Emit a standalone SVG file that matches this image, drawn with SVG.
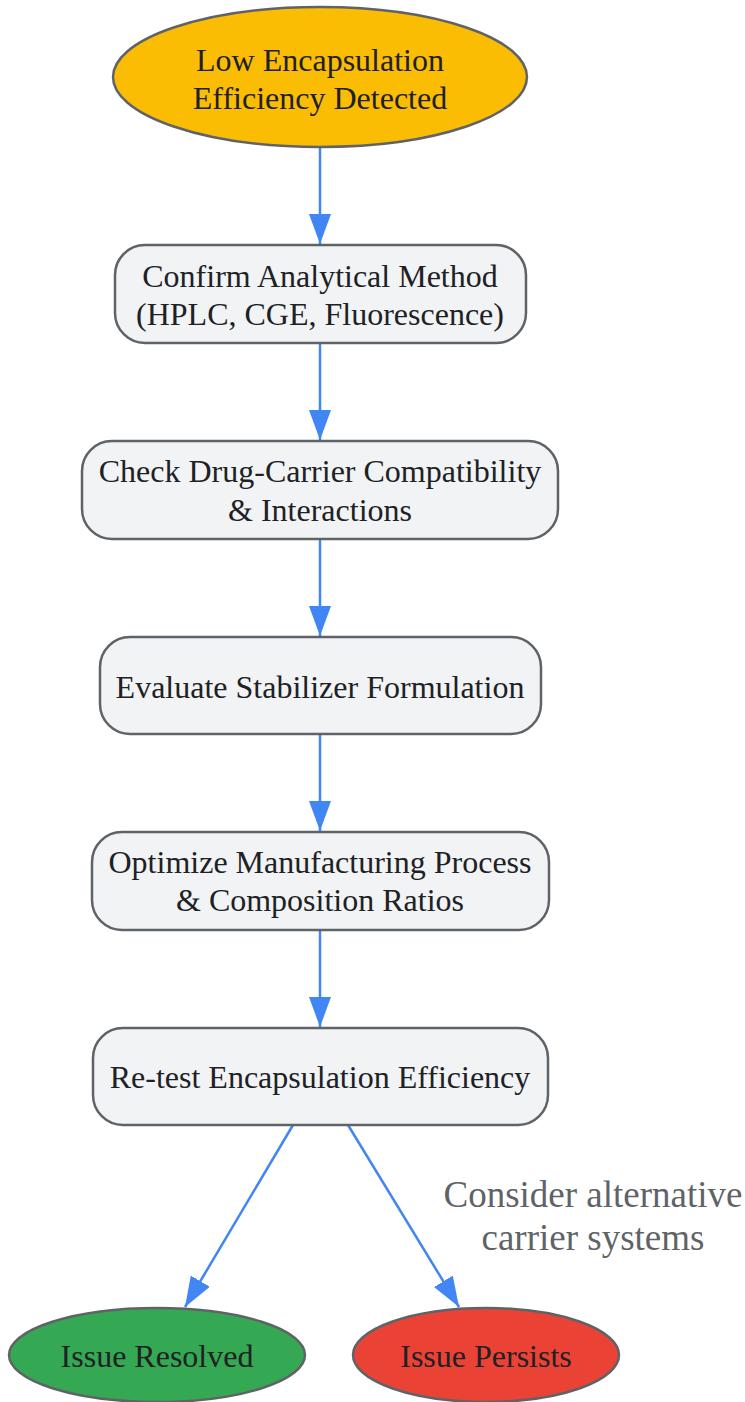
<svg xmlns="http://www.w3.org/2000/svg" width="745" height="1402" viewBox="0 0 745 1402">
<style>
text{font-family:"Liberation Serif","Times New Roman",serif;font-size:32px;fill:#202124;text-anchor:middle}
.box{fill:#F1F3F4;stroke:#5F6368;stroke-width:2.5}
.edge{stroke:#4285F4;stroke-width:2.5;fill:none}
.lbl{fill:#5F6368;font-size:37px}
</style>
<defs>
<marker id="ah" markerUnits="userSpaceOnUse" markerWidth="32" markerHeight="24" refX="30" refY="11" orient="auto">
<path d="M0,0 L30,11 L0,22 z" fill="#4285F4"/>
</marker>
</defs>
<rect width="745" height="1402" fill="#fff"/>
<g id="connectors">
<line class="edge" x1="320" y1="147" x2="320" y2="244" marker-end="url(#ah)"/>
<line class="edge" x1="320" y1="343" x2="320" y2="440" marker-end="url(#ah)"/>
<line class="edge" x1="320" y1="539" x2="320" y2="636" marker-end="url(#ah)"/>
<line class="edge" x1="320" y1="734" x2="320" y2="831" marker-end="url(#ah)"/>
<line class="edge" x1="320" y1="930" x2="320" y2="1027" marker-end="url(#ah)"/>
<line class="edge" x1="293" y1="1125" x2="185" y2="1307" marker-end="url(#ah)"/>
<line class="edge" x1="348" y1="1125" x2="459" y2="1307" marker-end="url(#ah)"/>
<text class="lbl" x="593" y="1207">Consider alternative</text>
<text class="lbl" x="593" y="1250">carrier systems</text>
</g>
<g id="start">
<ellipse cx="320" cy="77" rx="207" ry="70" fill="#FBBC04" stroke="#5F6368" stroke-width="2.5"/>
<text x="320" y="71">Low Encapsulation</text>
<text x="320" y="109">Efficiency Detected</text>
</g>
<g id="confirm">
<rect class="box" x="115" y="245" width="411" height="98" rx="30"/>
<text x="320" y="287">Confirm Analytical Method</text>
<text x="320" y="325">(HPLC, CGE, Fluorescence)</text>
</g>
<g id="check">
<rect class="box" x="82" y="441" width="476" height="98" rx="30"/>
<text x="320" y="482">Check Drug-Carrier Compatibility</text>
<text x="320" y="521">&amp; Interactions</text>
</g>
<g id="evaluate">
<rect class="box" x="100" y="637" width="441" height="97" rx="30"/>
<text x="320" y="698">Evaluate Stabilizer Formulation</text>
</g>
<g id="optimize">
<rect class="box" x="92" y="832" width="457" height="98" rx="30"/>
<text x="320" y="873">Optimize Manufacturing Process</text>
<text x="320" y="911">&amp; Composition Ratios</text>
</g>
<g id="retest">
<rect class="box" x="93" y="1028" width="455" height="97" rx="30"/>
<text x="320" y="1088">Re-test Encapsulation Efficiency</text>
</g>
<g id="resolved">
<ellipse cx="157" cy="1355" rx="148" ry="47" fill="#34A853" stroke="#5F6368" stroke-width="2.5"/>
<text x="157" y="1367">Issue Resolved</text>
</g>
<g id="persists">
<ellipse cx="486" cy="1355" rx="133" ry="47" fill="#EA4335" stroke="#5F6368" stroke-width="2.5"/>
<text x="486" y="1367">Issue Persists</text>
</g>
</svg>
